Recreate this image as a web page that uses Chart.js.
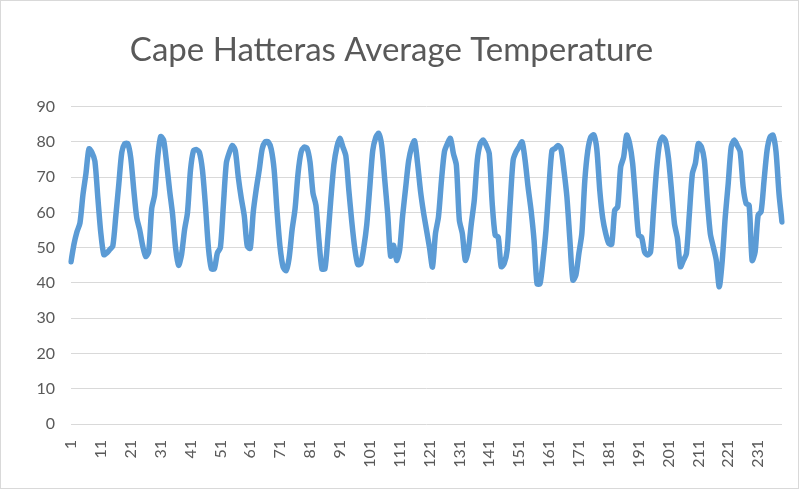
<!DOCTYPE html>
<html>
<head>
<meta charset="utf-8">
<script src="https://cdn.jsdelivr.net/npm/chart.js@4/dist/chart.umd.min.js"></script>
<style>
  html, body { margin: 0; padding: 0; background: #ffffff; }
  #wrap { width: 797px; height: 487px; border: 1px solid #d9d9d9; }
</style>
</head>
<body>
<div id="wrap"><canvas id="tempChart" width="797" height="487"></canvas></div>
<script>
// Monthly average temperature (239 months)
const temps = [
  46, 51, 54.5, 57, 65, 71, 78, 77, 74.5, 64, 54, 48,
  48.5, 49.5, 50.5, 59, 68, 77, 79.5, 79.5, 75.5, 66.5, 58.5, 55,
  50.5, 47.5, 48.8, 61, 65, 75.5, 81.5, 80.5, 74, 66.3, 59.5, 50,
  45, 48, 55, 60, 72, 77.5, 77.8, 77, 72, 62, 50, 44,
  44, 48.5, 50, 62, 74, 77, 79, 77.5, 70, 64, 59, 50.5,
  49.8, 60, 66.5, 72, 78, 80, 80, 78, 72, 60, 50, 44.5,
  43.5, 47, 55, 61, 71, 77, 78.5, 78.2, 74.3, 65.5, 62, 52,
  44, 44, 53, 64, 73.5, 78.5, 81, 78.6, 76, 66.3, 57.3, 49.8,
  45.2, 45.5, 50, 56.5, 67, 77.5, 81.2, 82.4, 79, 69.5, 59.7, 47.6,
  50.7, 46.4, 49.3, 59, 66.8, 74.5, 78.5, 80.3, 74, 66, 60, 55,
  50, 44.5, 54, 58.7, 69, 77.2, 79.5, 81, 76.7, 73.4, 57.8, 54,
  46.4, 49.3, 56.8, 63.5, 74.8, 79.5, 80.5, 79, 76.7, 62.5, 53.5, 53,
  44.6, 45.5, 49.3, 62.5, 74.8, 77.2, 78.6, 80, 74.8, 67.2, 60.6, 52.1,
  39.8, 39.8, 46.4, 55, 67.2, 77.6, 78.1, 79, 78.1, 72, 64.4, 52.1,
  40.8, 42.2, 48.3, 54, 69.1, 77.6, 81.4, 82, 78, 66.3, 58.3, 54,
  51.2, 51, 60.6, 61.6, 72.9, 75.7, 81.9, 79.5, 73.9, 63.5, 53.5, 53,
  48.8, 47.9, 48.8, 60.6, 72, 79.5, 81.4, 80.3, 75.3, 66.3, 56.8, 52.6,
  44.6, 46.4, 48.3, 59.7, 71, 73.9, 79.5, 78.6, 74.8, 63.5, 54, 50.2,
  46.4, 38.9, 46.4, 58.7, 68.2, 78.6, 80.5, 79, 77.2, 67.2, 62.5, 62,
  46.4, 48.8, 59.2, 60.2, 69.1, 77.6, 81.4, 81.9, 77.2, 65.3, 57.3
];

// Category labels are just the month number, 1..239
const months = temps.map((_, i) => String(i + 1));

// Every 10th month gets a tick label
const labelStep = 10;

const yMin = 0;
const yMax = 90;
const yStep = 10;

const textColor = "#595959";
const gridColor = "#d9d9d9";
const fontFamily = "Lato, 'Open Sans', sans-serif";

const ctx = document.getElementById("tempChart").getContext("2d");

new Chart(ctx, {
  type: "line",
  data: {
    labels: months,
    datasets: [
      {
        label: "Temperature",
        data: temps,
        borderColor: "#5b9bd5",
        borderWidth: 5.5,
        borderJoinStyle: "round",
        borderCapStyle: "round",
        tension: 0.25,
        pointRadius: 0,
        fill: false,
      },
    ],
  },
  options: {
    responsive: false,
    animation: false,
    layout: {
      padding: { left: 0, right: 16, top: 0, bottom: 0 },
    },
    plugins: {
      legend: { display: false },
      tooltip: { enabled: false },
      title: {
        display: true,
        text: "Cape Hatteras Average Temperature",
        color: textColor,
        font: { family: fontFamily, size: 33, weight: "normal" },
        padding: { top: 30, bottom: 36 },
      },
    },
    scales: {
      x: {
        type: "category",
        offset: false,
        grid: { display: false, drawTicks: false },
        border: { display: false },
        ticks: {
          autoSkip: false,
          minRotation: 90,
          maxRotation: 90,
          padding: 16,
          color: textColor,
          font: { family: fontFamily, size: 16 },
          callback: function (value, index) {
            return index % labelStep === 0 ? months[index] : null;
          },
        },
        afterFit: function (scale) {
          scale.height = 64;
        },
      },
      y: {
        min: yMin,
        max: yMax,
        grid: { color: gridColor, lineWidth: 1, drawTicks: false },
        border: { display: false },
        ticks: {
          stepSize: yStep,
          padding: 16,
          color: textColor,
          font: { family: fontFamily, size: 16 },
        },
        afterFit: function (scale) {
          scale.width = 70;
        },
      },
    },
  },
});
</script>
</body>
</html>
